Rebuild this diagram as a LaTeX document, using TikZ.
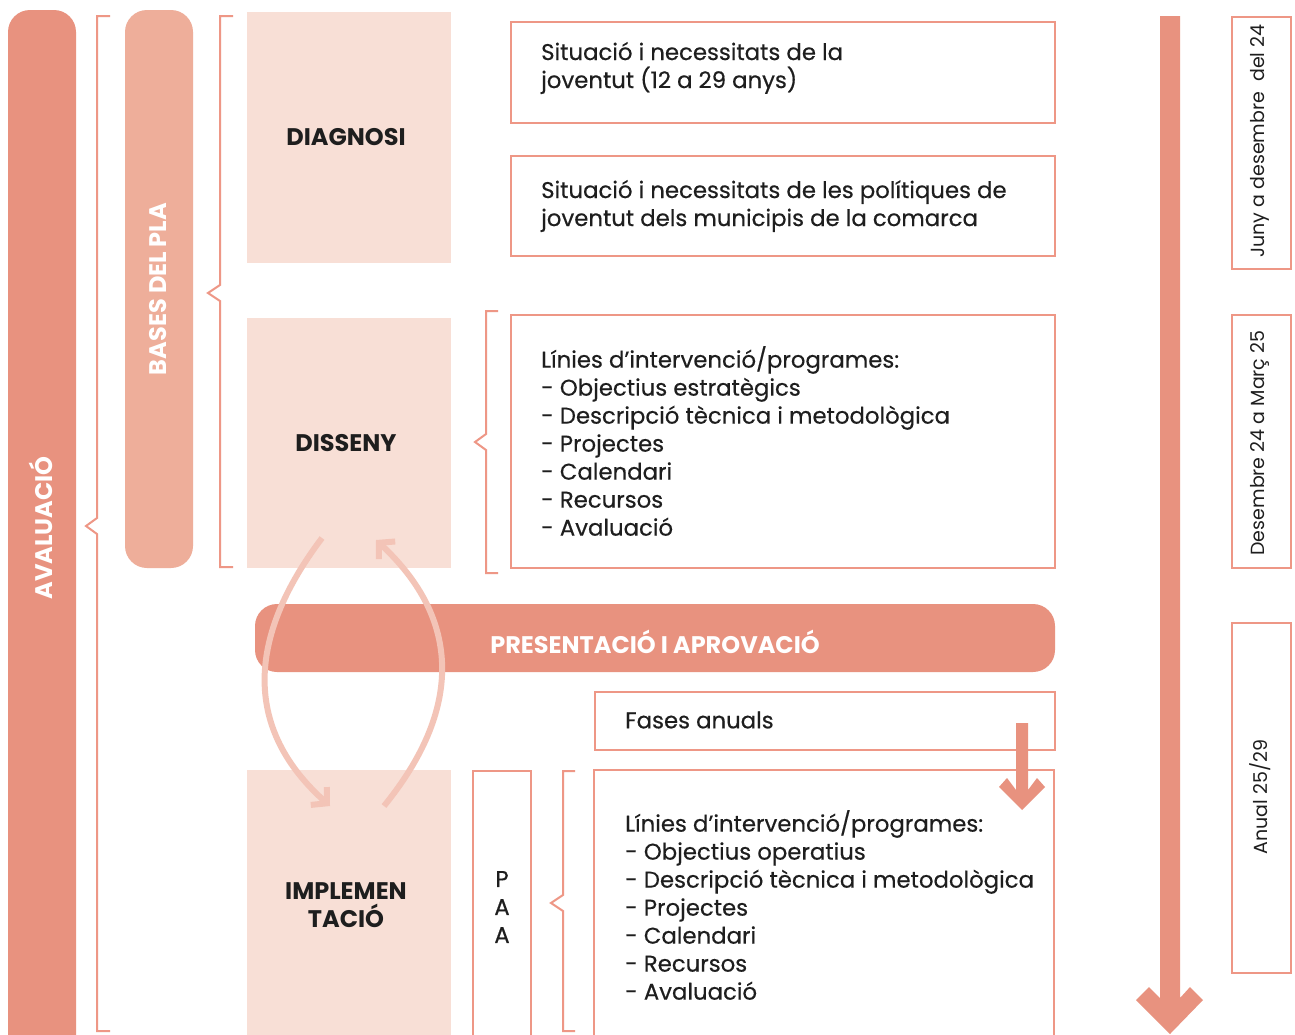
\documentclass[tikz,border=0pt]{standalone}
\usepackage{fontspec}
\setmainfont{Poppins}
\newfontfamily\medfont{Poppins}[FakeBold=0.4]
\usetikzlibrary{arrows.meta}
\definecolor{darksal}{HTML}{E8927F}
\definecolor{lightsal}{HTML}{EEAE9A}
\definecolor{phasefill}{HTML}{F8DFD6}
\definecolor{outl}{HTML}{EE9786}
\definecolor{curv}{HTML}{F3C4B7}
\definecolor{txt}{HTML}{1E1E1E}
\tikzset{
  phase/.style={fill=phasefill, draw=none, anchor=north west, inner sep=0pt},
  tbox/.style={draw=outl, line width=2pt, anchor=north west, inner sep=0pt},
  brk/.style={draw=outl, line width=2pt},
  body/.style={font=\medfont\fontsize{22.8}{28}\selectfont, text=txt, align=left, anchor=west, inner sep=0pt},
  bold/.style={font=\fontsize{24}{28}\selectfont\bfseries, text=txt, align=center, inner sep=0pt},
  wbold/.style={font=\fontsize{24}{28}\selectfont\bfseries, text=white, inner sep=0pt},
  side/.style={font=\fontsize{19}{22}\selectfont, text=txt, rotate=90, inner sep=0pt},
  curvarrow/.style={draw=curv, line width=6pt, -{Straight Barb[length=11pt, width=24pt, line width=6pt]}},
}
\begin{document}
\begin{tikzpicture}[x=1pt, y=-1pt]
\clip (0,0) rectangle (1295,1034);
\useasboundingbox (0,0) rectangle (1295,1034);
\fill[white] (0,0) rectangle (1295,1034);

% Evaluation bar
\fill[darksal, rounded corners=22pt] (8,10) rectangle (76,1080);
\node[wbold, rotate=90] (aval) at (41,528) {AVALUACIÓ};
\draw[brk] (110,16) -- (97,16) -- (97,518) -- (86,526) -- (97,534) -- (97,1031) -- (110,1031);

% Bases bar
\fill[lightsal, rounded corners=22pt] (125,10) rectangle (193,568);
\node[wbold, rotate=90] (bases) at (158,289) {BASES DEL PLA};
\draw[brk] (233,16) -- (220,16) -- (220,285) -- (208,293) -- (220,301) -- (220,567) -- (233,567);

% Phase boxes
\node[phase, minimum width=204pt, minimum height=251pt] (diag) at (247,12) {};
\node[bold] at (346,137) {DIAGNOSI};
\node[phase, minimum width=204pt, minimum height=250pt] (diss) at (247,318) {};
\node[bold] at (346,443) {DISSENY};
\node[phase, minimum width=204pt, minimum height=280pt] (impl) at (247,770) {};
\node[bold] at (346,905) {IMPLEMEN\\TACIÓ};

% Text boxes
\node[tbox, minimum width=544pt, minimum height=101pt] (b1) at (510,21) {};
\node[body] (t1) at (541,68) {Situació i necessitats de la\\joventut (12 a 29 anys)};
\node[tbox, minimum width=544pt, minimum height=100pt] (b2) at (510,155) {};
\node[body] (t2) at (541,206) {Situació i necessitats de les polítiques de\\joventut dels municipis de la comarca};

\draw[brk] (498,311) -- (486,311) -- (486,434) -- (475,442) -- (486,450) -- (486,573) -- (498,573);
\node[tbox, minimum width=544pt, minimum height=253pt] (b3) at (510,314) {};
\node[body] (t3) at (541,441) {Línies d’intervenció/programes:\\- Objectius estratègics\\- Descripció tècnica i metodològica\\- Projectes\\- Calendari\\- Recursos\\- Avaluació};

% Presentation bar
\fill[darksal, rounded corners=22pt] (255,604) rectangle (1055,672);
\node[wbold] (pres) at (655,642) {PRESENTACIÓ I APROVACIÓ};

% Fases anuals
\node[tbox, minimum width=460pt, minimum height=58pt] (fa) at (594,691) {};
\node[body] (tfa) at (625,720) {Fases anuals};

% PAA
\draw[draw=outl, line width=2pt] (473,1040) -- (473,771) -- (531,771) -- (531,1040);
\node[body, anchor=center, align=center] (paa) at (502,907) {P\\A\\A};
\draw[brk] (575,771) -- (563,771) -- (563,895) -- (551,903) -- (563,911) -- (563,1031) -- (575,1031);
\draw[draw=outl, line width=2pt] (594,1040) -- (594,770) -- (1054,770) -- (1054,1040);
\node[body] (t4) at (625,905) {Línies d’intervenció/programes:\\- Objectius operatius\\- Descripció tècnica i metodològica\\- Projectes\\- Calendari\\- Recursos\\- Avaluació};

% small arrow
\fill[darksal] (1016,723) -- (1028,723) -- (1028,790) -- (1037,778) -- (1045,787) -- (1022,810) -- (999,787) -- (1007,778) -- (1016,790) -- cycle;

% big arrow
\fill[darksal] (1160,16) -- (1180,16) -- (1180,998) -- (1190,987) -- (1203,1000) -- (1170,1034) -- (1136,1000) -- (1149,987) -- (1160,998) -- cycle;

% Side labels
\node[tbox, minimum width=59pt, minimum height=252pt] (s1) at (1231,16) {};
\node[side] at (1260,141) {Juny a desembre\ \ del 24};
\node[tbox, minimum width=59pt, minimum height=253pt] (s2) at (1231,314) {};
\node[side] at (1260,443) {Desembre 24 a Març 25};
\node[tbox, minimum width=59pt, minimum height=350pt] (s3) at (1231,622) {};
\node[side] at (1260,797) {Anual 25/29};

% curved arrows
\coordinate (la) at (322,538);
\coordinate (lb) at (330,806);
\coordinate (ra) at (384,806);
\coordinate (rb) at (376,540);
\draw[curvarrow] (la) .. controls (245,640) and (245,730) .. (lb);
\draw[curvarrow] (ra) .. controls (462,710) and (462,620) .. (rb);
\end{tikzpicture}
\end{document}
